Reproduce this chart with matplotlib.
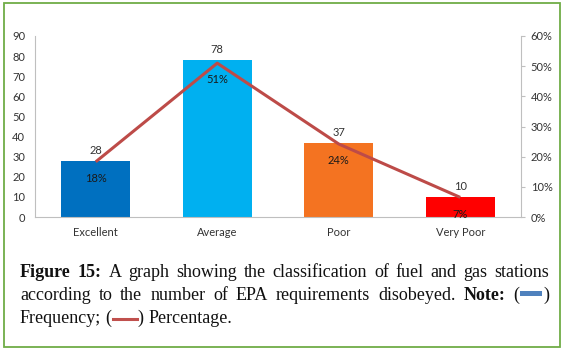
import numpy as np
import matplotlib
matplotlib.use('Agg')
import matplotlib.pyplot as plt
from matplotlib.patches import Rectangle
from matplotlib.lines import Line2D
from matplotlib.ticker import FuncFormatter

# data
categories = ['Excellent', 'Average', 'Poor', 'Very Poor']
frequency = [28, 78, 37, 10]
percentage = [18.3, 51.0, 24.2, 6.5]
pct_labels = ['18%', '51%', '24%', '7%']
bar_colors = ['#0070c0', '#00b0f0', '#f47321', '#ff0000']

W, H = 565, 351
fig = plt.figure(figsize=(W / 100, H / 100), dpi=100)
fig.patch.set_facecolor('white')

def fx(px):
    return px / W

def fy(py):
    return 1 - py / H

LBL_FONT = 'Lato'
LBL_FS = 8
GRAY = '#bfbfbf'
TXT = '#333333'

ax = fig.add_axes([fx(35), fy(217), fx(521) - fx(35), fy(36) - fy(217)])
x = np.arange(len(categories))
ax.bar(x, frequency, width=0.57, color=bar_colors, zorder=2)
ax.set_xlim(-0.5, 3.5)
ax.set_ylim(0, 90)
ax.set_yticks(range(0, 91, 10))
ax.set_xticks(x)
ax.set_xticklabels(categories)
for s in ['top', 'right']:
    ax.spines[s].set_visible(False)
for s in ['left', 'bottom']:
    ax.spines[s].set_color(GRAY)
ax.tick_params(axis='both', length=0, labelsize=LBL_FS, labelcolor=TXT)
ax.tick_params(axis='y', pad=7)
ax.tick_params(axis='x', pad=7)
for lab in ax.get_xticklabels() + ax.get_yticklabels():
    lab.set_family(LBL_FONT)

for xi, v in zip(x, frequency):
    ax.annotate(str(v), (xi, v), xytext=(0, 7.5), textcoords='offset points',
                ha='center', va='center', fontsize=LBL_FS, color=TXT, family=LBL_FONT)

ax2 = ax.twinx()
ax2.plot(x, percentage, color='#bd4b48', lw=2.2, zorder=3, solid_capstyle='butt')
ax2.set_ylim(0, 60)
ax2.set_yticks(range(0, 61, 10))
ax2.yaxis.set_major_formatter(FuncFormatter(lambda v, p: f'{int(v)}%'))
for s in ['top', 'left', 'bottom']:
    ax2.spines[s].set_visible(False)
ax2.spines['right'].set_color(GRAY)
ax2.tick_params(axis='y', length=3, color=GRAY, labelsize=LBL_FS, labelcolor=TXT, pad=4)
for lab in ax2.get_yticklabels():
    lab.set_family(LBL_FONT)

for xi, v, s in zip(x, percentage, pct_labels):
    ax2.annotate(s, (xi, v), xytext=(0, -12), textcoords='offset points',
                 ha='center', va='center', fontsize=LBL_FS, color='#1a1a1a', family=LBL_FONT)

# green frame
fig.patches.append(Rectangle((fx(4), fy(347)), fx(560) - fx(4), fy(3) - fy(347),
                             transform=fig.transFigure, fill=False,
                             edgecolor='#70ad47', lw=1.3))

# caption
CAP_FONT = 'Liberation Serif'
CAP_FS = 13
renderer = fig.canvas.get_renderer()

def text_w(s, weight):
    t = fig.text(0, 0, s, fontsize=CAP_FS, family=CAP_FONT, weight=weight)
    w = t.get_window_extent(renderer).width
    t.remove()
    return w

space_w = text_w('a a', 'normal') - text_w('aa', 'normal')

def piece_w(p):
    if p[0] == 't':
        return text_w(p[1], p[2])
    return p[2] + 2

def words(s, weight='normal'):
    return [[('t', w, weight)] for w in s.split()]

def draw_line(line, base, x0, x1=None):
    widths = [sum(piece_w(p) for p in wd) for wd in line]
    gap = space_w
    if x1 is not None and len(line) > 1:
        gap = max((x1 - x0 - sum(widths)) / (len(line) - 1), space_w * 0.8)
    xp = x0
    for wd, ww in zip(line, widths):
        for p in wd:
            if p[0] == 't':
                fig.text(fx(xp), fy(base), p[1], fontsize=CAP_FS, family=CAP_FONT,
                         weight=p[2], ha='left', va='baseline', color='#111111')
                xp += text_w(p[1], p[2])
            elif p[0] == 'box':
                fig.patches.append(Rectangle((fx(xp + 1), fy(base - 4)), fx(p[2]), fy(0) - fy(5),
                                             transform=fig.transFigure, color=p[1], lw=0))
                xp += p[2] + 2
            else:
                fig.lines.append(Line2D([fx(xp + 1), fx(xp + 1 + p[2])], [fy(base - 4.5)] * 2,
                                        transform=fig.transFigure, color=p[1], lw=2.2))
                xp += p[2] + 2
        xp += gap

line1 = words('Figure 15:', 'bold') + words('A graph showing the classification of fuel and gas stations')
line2 = (words('according to the number of EPA requirements disobeyed.') + words('Note:', 'bold')
         + [[('t', '(', 'normal'), ('box', '#4f81bd', 22), ('t', ')', 'normal')]])
line3 = (words('Frequency;') + [[('t', '(', 'normal'), ('dash', '#c0504d', 24), ('t', ')', 'normal')]]
         + words('Percentage.'))

draw_line(line1, 277, 20, 549)
draw_line(line2, 300, 20, 549)
draw_line(line3, 323, 20)

fig.savefig('out.png', dpi=100, facecolor='white')
